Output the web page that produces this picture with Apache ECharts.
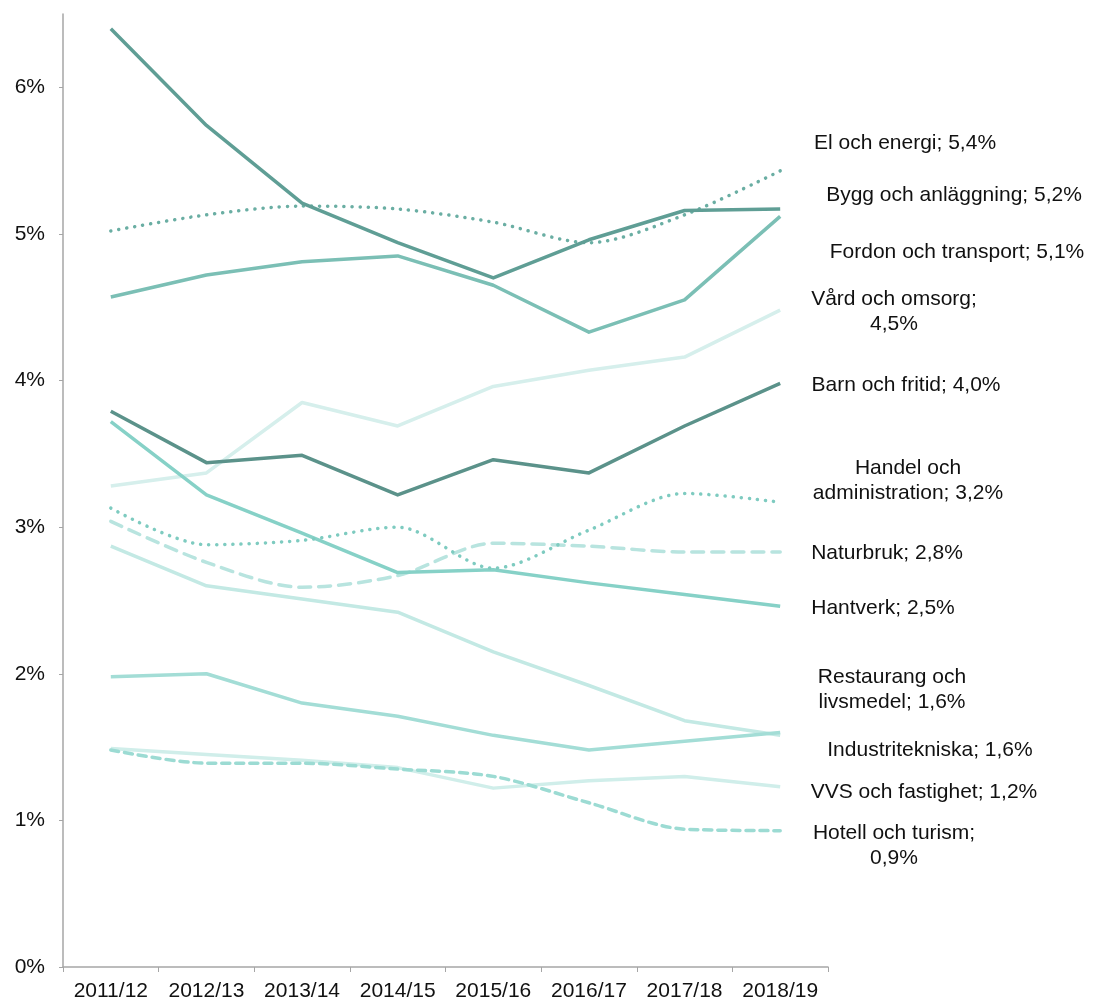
<!DOCTYPE html>
<html>
<head>
<meta charset="utf-8">
<script src="https://cdn.jsdelivr.net/npm/echarts@6/dist/echarts.min.js"></script>
<style>
  html, body { margin: 0; padding: 0; background: #fff; }
  #chart { width: 1093px; height: 1003px; }
</style>
</head>
<body>
<div id="chart"></div>
<script>
const years = ['2011/12', '2012/13', '2013/14', '2014/15', '2015/16', '2016/17', '2017/18', '2018/19'];

const byggAnlaggning = [6.40, 5.74, 5.21, 4.94, 4.70, 4.96, 5.16, 5.17];
const elEnergi = [5.02, 5.13, 5.19, 5.17, 5.08, 4.94, 5.13, 5.43];
const fordonTransport = [4.57, 4.72, 4.81, 4.85, 4.65, 4.33, 4.55, 5.12];
const vardOmsorg = [3.28, 3.37, 3.85, 3.69, 3.96, 4.07, 4.16, 4.48];
const barnFritid = [3.79, 3.44, 3.49, 3.22, 3.46, 3.37, 3.69, 3.98];
const handelAdmin = [3.13, 2.88, 2.91, 3.00, 2.72, 2.98, 3.23, 3.17];
const naturbruk = [3.04, 2.76, 2.59, 2.67, 2.89, 2.87, 2.83, 2.83];
const hantverk = [3.72, 3.22, 2.96, 2.69, 2.71, 2.62, 2.54, 2.46];
const restaurang = [2.87, 2.60, 2.51, 2.42, 2.15, 1.92, 1.68, 1.58];
const industri = [1.98, 2.00, 1.80, 1.71, 1.58, 1.48, 1.54, 1.60];
const vvsFastighet = [1.49, 1.45, 1.41, 1.36, 1.22, 1.27, 1.30, 1.23];
const hotellTurism = [1.48, 1.39, 1.39, 1.35, 1.30, 1.12, 0.94, 0.93];

const yTicks = [0, 1, 2, 3, 4, 5, 6];

const labelTexts = [
  'El och energi; 5,4%',
  'Bygg och anläggning; 5,2%',
  'Fordon och transport; 5,1%',
  'Vård och omsorg;\n4,5%',
  'Barn och fritid; 4,0%',
  'Handel och\nadministration; 3,2%',
  'Naturbruk; 2,8%',
  'Hantverk; 2,5%',
  'Restaurang och\nlivsmedel; 1,6%',
  'Industritekniska; 1,6%',
  'VVS och fastighet; 1,2%',
  'Hotell och turism;\n0,9%'
];
// label anchor positions (centre x, centre y)
const labelPos = [
  [905, 143], [954, 195], [957, 252], [894, 312], [906, 385], [908, 481],
  [887, 553], [883, 608], [892, 690], [930, 750], [924, 792], [894, 846]
];

const chart = echarts.init(document.getElementById('chart'));

const line = (name, data, color, type, smooth) => ({
  name: name,
  type: 'line',
  data: data,
  symbol: 'none',
  smooth: smooth ? 0.3 : false,
  lineStyle: {
    color: color,
    width: 3.5,
    type: type || 'solid',
    cap: type && type !== 'solid' ? 'round' : 'butt',
    join: 'round'
  }
});

chart.setOption({
  animation: false,
  textStyle: { fontFamily: 'Liberation Sans, Arial, sans-serif' },
  grid: { left: 63, right: 265, top: 14, bottom: 36 },
  xAxis: {
    type: 'category',
    data: years,
    boundaryGap: true,
    axisLine: { lineStyle: { color: '#a6a6a6', width: 1.5 } },
    axisTick: { show: true, interval: 0, length: 5, lineStyle: { color: '#a6a6a6' } },
    axisLabel: { color: '#111', fontSize: 21, margin: 14, interval: 0, hideOverlap: false }
  },
  yAxis: {
    type: 'value',
    min: 0,
    max: 6.5,
    interval: 1,
    axisLine: { show: true, lineStyle: { color: '#a6a6a6', width: 1.5 } },
    axisTick: { show: true, length: 4, lineStyle: { color: '#a6a6a6' } },
    splitLine: { show: false },
    axisLabel: {
      color: '#111',
      fontSize: 21,
      margin: 18,
      showMaxLabel: false,
      formatter: v => yTicks.includes(v) ? v + '%' : ''
    }
  },
  series: [
    line('Vård och omsorg', vardOmsorg, '#d6efec'),
    line('VVS och fastighet', vvsFastighet, '#d0eeea'),
    line('Restaurang och livsmedel', restaurang, '#c3e9e4'),
    line('Industritekniska', industri, '#a3ddd6'),
    line('Naturbruk', naturbruk, '#b8e4df', [12, 8], true),
    line('Hotell och turism', hotellTurism, '#9cdbd3', [8, 6], true),
    line('Hantverk', hantverk, '#86d1c7'),
    line('Handel och administration', handelAdmin, '#7ecbc0', [0.1, 8], true),
    line('Fordon och transport', fordonTransport, '#7bbfb5'),
    line('El och energi', elEnergi, '#6aaea3', [0.1, 8], true),
    line('Barn och fritid', barnFritid, '#5b928a'),
    line('Bygg och anläggning', byggAnlaggning, '#5f9e95')
  ],
  graphic: labelTexts.map((t, i) => ({
    type: 'text',
    x: labelPos[i][0],
    y: labelPos[i][1],
    style: {
      text: t,
      fill: '#111',
      font: '21px "Liberation Sans", Arial, sans-serif',
      align: 'center',
      verticalAlign: 'middle',
      lineHeight: 25
    }
  }))
});
</script>
</body>
</html>
